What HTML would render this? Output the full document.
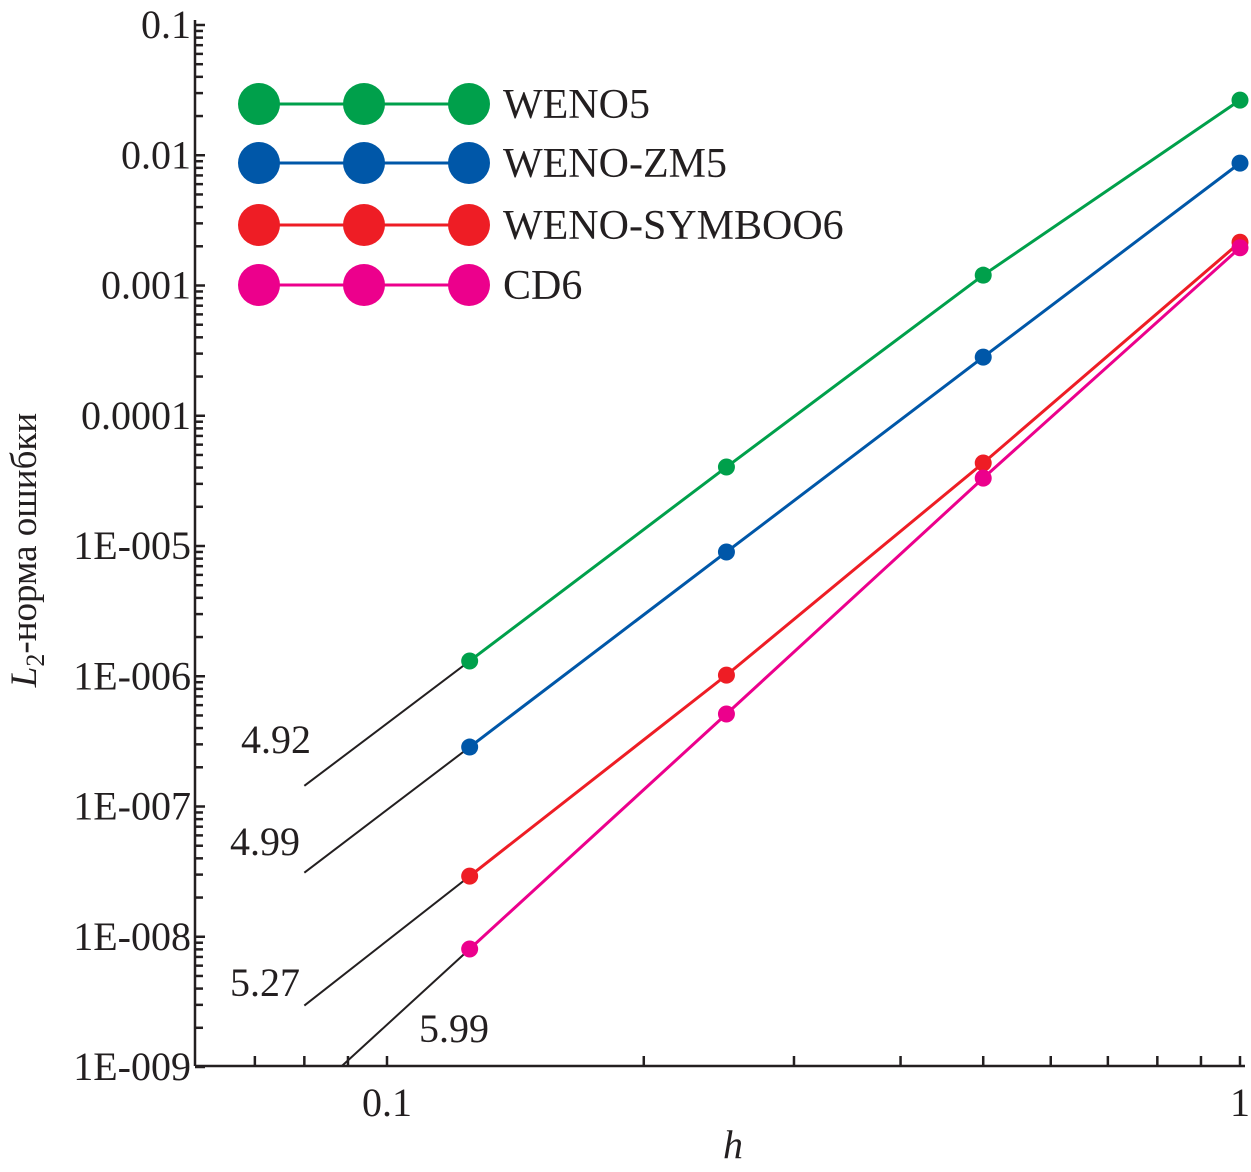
<!DOCTYPE html>
<html><head><meta charset="utf-8"><style>
html,body{margin:0;padding:0;background:#fff;}
svg{display:block;font-family:"Liberation Serif",serif;}
</style></head><body>
<svg id="chart" width="1251" height="1172" viewBox="0 0 1251 1172" xmlns="http://www.w3.org/2000/svg"></svg>
<script>
const hValues = [1, 0.5, 0.25, 0.125];
const seriesNames = ["WENO5", "WENO-ZM5", "WENO-SYMBOO6", "CD6"];
const weno5 = [0.0265, 0.00120, 4.04e-5, 1.31e-6];
const wenoZm5 = [0.0087, 2.82e-4, 9.0e-6, 2.86e-7];
const wenoSymboo6 = [0.00215, 4.34e-5, 1.02e-6, 2.92e-8];
const cd6 = [0.00195, 3.32e-5, 5.13e-7, 8.05e-9];
const orders = ["4.92", "4.99", "5.27", "5.99"];
const yTickValues = [0.1, 0.01, 0.001, 0.0001, 1e-5, 1e-6, 1e-7, 1e-8, 1e-9];
const yTickLabels = ["0.1","0.01","0.001","0.0001","1E-005","1E-006","1E-007","1E-008","1E-009"];
const xTickValues = [0.1, 1];
const xTickLabels = ["0.1", "1"];

const colors = ["#00a04b", "#0057a8", "#ee1d25", "#ec008c"];
const allSeries = [weno5, wenoZm5, wenoSymboo6, cd6];
const svg = document.getElementById('chart');
const NS = "http://www.w3.org/2000/svg";
const X0 = 195, Y0 = 1066;
function xs(h){ return 1240 + 853 * Math.log10(h); }
function ys(v){ return 25 - 130.25 * (Math.log10(v) + 1); }
function mk(tag, attrs, parent){ const e = document.createElementNS(NS, tag); for (const k in attrs) e.setAttribute(k, attrs[k]); (parent||svg).appendChild(e); return e; }

const defs = mk('defs', {});
const cp = mk('clipPath', {id:'plotclip'}, defs);
mk('rect', {x:X0, y:0, width:1251-X0, height:Y0}, cp);

const ax = mk('g', {stroke:'#231f20', 'stroke-width':2.5, fill:'none'});


mk('line', {x1:X0, y1:Y0, x2:X0, y2:20}, ax);
mk('line', {x1:X0, y1:Y0, x2:1245, y2:Y0}, ax);
for (let d = -9; d <= -1; d++) {
  for (let m = 1; m <= 9; m++) {
    const v = m * Math.pow(10, d);
    if (v > 0.1 + 1e-12) continue;
    const y = ys(v);
    mk('line', {x1:X0, y1:y, x2:X0 + (m===1 ? 10 : 8), y2:y}, ax);
  }
}
for (let d = -2; d <= 0; d++) {
  for (let m = 1; m <= 9; m++) {
    const h = m * Math.pow(10, d);
    const x = xs(h);
    if (x < X0 + 5 || x > 1242) continue;
    mk('line', {x1:x, y1:Y0, x2:x, y2:Y0 - 10}, ax);
  }
}
yTickValues.forEach((v, i) => {
  const t = mk('text', {x:191, y:ys(v) + 13, 'text-anchor':'end', 'font-size':40, fill:'#231f20'});
  t.textContent = yTickLabels[i];
  
  
});
xTickValues.forEach((v, i) => {
  const t = mk('text', {x:xs(v), y:1116, 'text-anchor':'middle', 'font-size':40, fill:'#231f20'});
  t.textContent = xTickLabels[i];
  
  
});
const xt = mk('text', {x:733, y:1158, 'text-anchor':'middle', 'font-size':40, 'font-style':'italic', fill:'#231f20'});
xt.textContent = 'h';


const yt = mk('text', {x:0, y:0, 'text-anchor':'middle', 'font-size':37, fill:'#231f20', transform:'translate(36,550) rotate(-90)'});
yt.innerHTML = '<tspan font-style="italic">L</tspan><tspan font-size="26" dy="8">2</tspan><tspan dy="-8">-норма ошибки</tspan>';



const plot = mk('g', {'clip-path':'url(#plotclip)'});
allSeries.forEach((vals, si) => {
  const g = mk('g', {}, plot);
  
  
  const h1 = hValues[2], h2 = hValues[3], v1 = vals[2], v2 = vals[3];
  const slope = Math.log10(v1 / v2) / Math.log10(h1 / h2);
  const hs = 0.08;
  const vs = v2 * Math.pow(hs / h2, slope);
  const rl = mk('line', {x1:xs(hs), y1:ys(vs), x2:xs(h1), y2:ys(v1), stroke:'#231f20', 'stroke-width':2}, g);
  
  
  const pts = hValues.map((h, i) => xs(h) + ',' + ys(vals[i])).join(' ');
  const pl = mk('polyline', {points:pts, fill:'none', stroke:colors[si], 'stroke-width':3}, g);
  
  
  hValues.forEach((h, i) => {
    const c = mk('circle', {cx:xs(h), cy:ys(vals[i]), r:8.5, fill:colors[si]}, g);
    
    
  });
});

const orderPos = [[276,753],[265,855],[265,996],[454,1042]];
orders.forEach((o, i) => {
  const t = mk('text', {x:orderPos[i][0], y:orderPos[i][1], 'text-anchor':'middle', 'font-size':40, fill:'#231f20'});
  t.textContent = o;
  
  
});

const legY = [104, 163, 225, 285];
seriesNames.forEach((n, i) => {
  const g = mk('g', {});
  
  
  mk('line', {x1:259, y1:legY[i], x2:469, y2:legY[i], stroke:colors[i], 'stroke-width':3}, g);
  [259, 364, 469].forEach(x => mk('circle', {cx:x, cy:legY[i], r:21, fill:colors[i]}, g));
  const t = mk('text', {x:503, y:legY[i] + 14, 'font-size':42, fill:'#231f20'}, g);
  t.textContent = n;
});
</script>
</body></html>
